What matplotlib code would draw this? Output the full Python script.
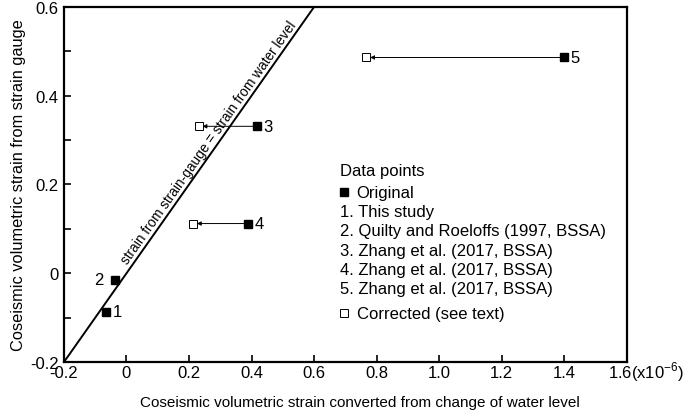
import matplotlib
matplotlib.use("Agg")
import matplotlib.pyplot as plt
import matplotlib.transforms as mtransforms
import numpy as np

plt.rcParams['font.family'] = ['Liberation Sans', 'DejaVu Sans']
plt.rcParams['mathtext.fontset'] = 'custom'
plt.rcParams['mathtext.rm'] = 'Liberation Sans'

# data (x1e-6)
point_ids = ['1', '2', '3', '4', '5']
orig_x = [-0.065, -0.037, 0.417, 0.389, 1.398]
orig_y = [-0.087, -0.015, 0.331, 0.112, 0.486]
corr_ids = ['3', '4', '5']
corr_x = [0.231, 0.213, 0.767]
corr_y = [0.331, 0.112, 0.486]

legend_lines = ["1. This study",
                "2. Quilty and Roeloffs (1997, BSSA)",
                "3. Zhang et al. (2017, BSSA)",
                "4. Zhang et al. (2017, BSSA)",
                "5. Zhang et al. (2017, BSSA)"]

fig = plt.figure(figsize=(6.95, 4.14), dpi=100)
ax = fig.add_axes([0.092, 0.123, 0.81, 0.858])

# 1:1 line
ax.plot([-0.2, 0.6], [-0.2, 0.6], color='black', lw=1.4)
tr = mtransforms.offset_copy(ax.transData, fig=fig, x=-3.2, y=2.2, units='dots')
ax.text(0.285, 0.285, "strain from strain-gauge = strain from water level",
        rotation=54.8, rotation_mode='anchor', transform=tr,
        ha='center', va='baseline', fontsize=9.8)

# arrows original -> corrected
for pid, cx, cy in zip(corr_ids, corr_x, corr_y):
    i = point_ids.index(pid)
    ax.annotate("", xy=(cx + 0.012, cy), xytext=(orig_x[i], orig_y[i]),
                arrowprops=dict(arrowstyle='-|>', color='black', lw=0.7,
                                mutation_scale=6, shrinkA=0, shrinkB=0))

ax.plot(orig_x, orig_y, 's', color='black', markersize=6, linestyle='none')
ax.plot(corr_x, corr_y, 's', markerfacecolor='white', markeredgecolor='black',
        markeredgewidth=0.7, markersize=6, linestyle='none')

# point labels
offsets = {'1': (0.02, 0, 'left'), '2': (-0.035, 0, 'right'),
           '3': (0.022, 0, 'left'), '4': (0.022, 0, 'left'),
           '5': (0.022, 0, 'left')}
for pid, x, y in zip(point_ids, orig_x, orig_y):
    dx, dy, ha = offsets[pid]
    ax.text(x + dx, y + dy, pid, ha=ha, va='center', fontsize=12)

# legend as text block
lx = 0.49
ax.text(lx, 0.538, "Data points", transform=ax.transAxes, fontsize=12, va='center')
ax.plot([lx + 0.008], [0.478], 's', color='black', markersize=5.5,
        transform=ax.transAxes, clip_on=False)
ax.text(lx + 0.03, 0.478, "Original", transform=ax.transAxes, fontsize=12, va='center')
for k, line in enumerate(legend_lines):
    ax.text(lx, 0.424 - k * 0.0545, line, transform=ax.transAxes,
            fontsize=12, va='center')
ax.plot([lx + 0.008], [0.138], 's', markerfacecolor='white', markeredgecolor='black',
        markeredgewidth=0.7, markersize=5.5, transform=ax.transAxes, clip_on=False)
ax.text(lx + 0.03, 0.138, "Corrected (see text)", transform=ax.transAxes,
        fontsize=12, va='center')

ax.set_xlim(-0.2, 1.6)
ax.set_ylim(-0.2, 0.6)
ax.set_xticks(np.arange(-0.2, 1.61, 0.2))
ax.set_xticklabels(['-0.2', '0', '0.2', '0.4', '0.6', '0.8', '1.0', '1.2', '1.4', ''])
ax.set_yticks([-0.2, 0, 0.2, 0.4, 0.6])
ax.set_yticklabels(['-0.2', '0', '0.2', '0.4', '0.6'])
ax.set_yticks([-0.1, 0.1, 0.3, 0.5], minor=True)
ax.tick_params(direction='in', length=5, width=1.2, labelsize=12)
ax.tick_params(axis='x', pad=2)
ax.tick_params(axis='y', pad=4)
ax.tick_params(which='minor', direction='in', length=5, width=1.2)
for s in ax.spines.values():
    s.set_linewidth(1.6)

# last x tick label with the multiplier
ax.text(0.966, -0.026, "1.6(x10$^{-6}$)", transform=ax.transAxes, fontsize=12,
        ha='left', va='center')

ax.set_xlabel("Coseismic volumetric strain converted from change of water level",
              fontsize=11)
ax.xaxis.set_label_coords(0.526, -0.093)
ax.set_ylabel("Coseismic volumetric strain from strain gauge", fontsize=11.8, labelpad=3)

fig.savefig("out.png", dpi=100)
